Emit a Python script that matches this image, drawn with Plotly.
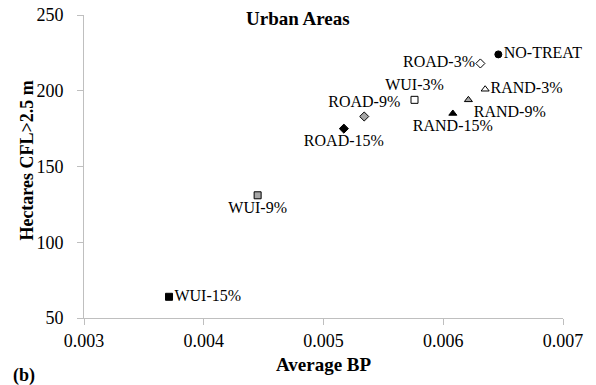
import plotly.graph_objects as go

# Treatment scenarios for urban areas
scenarios = ["NO-TREAT", "ROAD-3%", "RAND-3%", "WUI-3%", "RAND-9%",
             "ROAD-9%", "RAND-15%", "ROAD-15%", "WUI-9%", "WUI-15%"]
avg_bp = [0.00646, 0.00631, 0.00635, 0.00576, 0.00621,
          0.00534, 0.00608, 0.00517, 0.00445, 0.00371]
hectares_cfl = [224, 218, 201, 194, 194, 183, 185, 175, 131, 64]

symbols = ["circle", "diamond", "triangle-up", "square", "triangle-up",
           "diamond", "triangle-up", "diamond", "square", "square"]
fills = ["black", "white", "white", "white", "#a6a6a6",
         "#a6a6a6", "black", "black", "#a6a6a6", "black"]
label_pos = ["middle right", "middle left", "middle right", "top center", "bottom right",
             "top center", "bottom center", "bottom center", "bottom center", "middle right"]

serif = "Liberation Serif"

fig = go.Figure(go.Scatter(
    x=avg_bp, y=hectares_cfl,
    mode="markers+text",
    text=scenarios,
    textposition=label_pos,
    textfont=dict(family=serif, size=16, color="black"),
    marker=dict(symbol=symbols, color=fills, size=7,
                line=dict(color="black", width=1)),
    cliponaxis=False,
    showlegend=False,
))

axis_grey = "#bfbfbf"
fig.update_xaxes(
    range=[0.003, 0.007], dtick=0.001, tick0=0.003, tickformat=".3f",
    showgrid=False, zeroline=False, showline=True, linecolor=axis_grey, linewidth=1,
    ticks="outside", ticklen=6, tickcolor=axis_grey, ticklabelstandoff=0,
    tickfont=dict(family=serif, size=18, color="black"), automargin=False,
)
fig.update_yaxes(
    range=[50, 250], dtick=50, tick0=50,
    showgrid=False, zeroline=False, showline=True, linecolor=axis_grey, linewidth=1,
    ticks="outside", ticklen=6, tickcolor=axis_grey, ticklabelstandoff=10,
    tickfont=dict(family=serif, size=18, color="black"), automargin=False,
)

fig.update_layout(
    width=596, height=385,
    margin=dict(l=83.5, r=32.5, t=15, b=67, autoexpand=False),
    plot_bgcolor="white", paper_bgcolor="white",
    font=dict(family=serif),
    annotations=[
        dict(text="<b>Urban Areas</b>", xref="paper", yref="paper",
             x=0.447, y=0.99, xanchor="center", yanchor="middle",
             showarrow=False, font=dict(family=serif, size=19, color="black")),
        dict(text="<b>Hectares CFL>2.5 m</b>", xref="paper", yref="paper",
             x=-0.118, y=0.521, xanchor="center", yanchor="middle", textangle=-90,
             showarrow=False, font=dict(family=serif, size=18, color="black")),
        dict(text="<b>Average BP</b>", xref="paper", yref="paper",
             x=0.5, y=-0.155, xanchor="center", yanchor="middle",
             showarrow=False, font=dict(family=serif, size=19, color="black")),
        dict(text="<b>(b)</b>", xref="paper", yref="paper",
             x=-0.152, y=-0.19, xanchor="left", yanchor="middle",
             showarrow=False, font=dict(family=serif, size=18, color="black")),
    ],
)

fig.write_html("out.html")
